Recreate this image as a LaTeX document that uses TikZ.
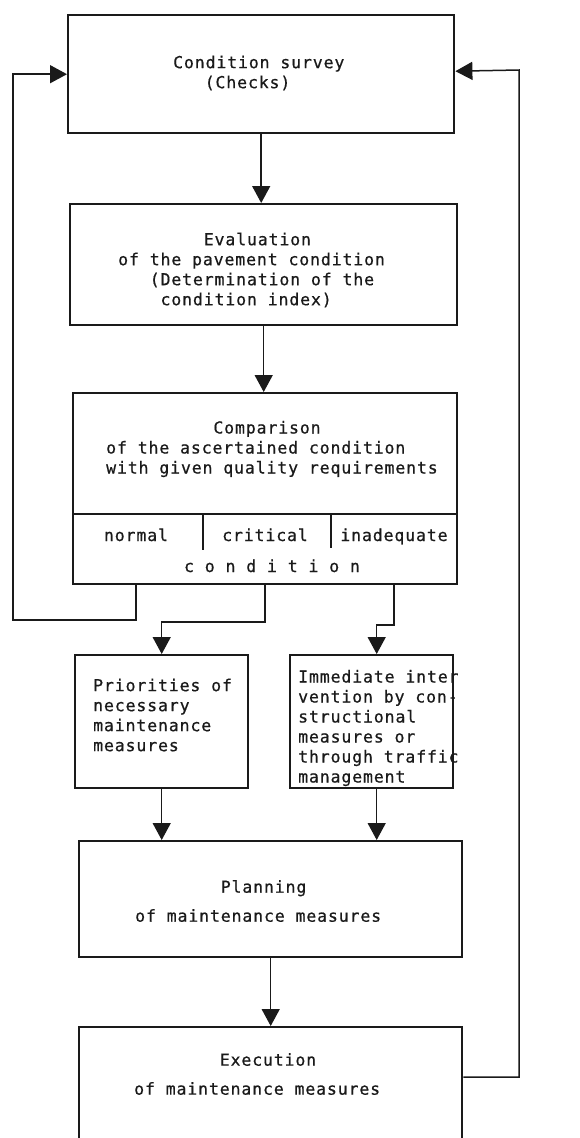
\documentclass[tikz,border=0pt]{standalone}
\usepackage{fontspec}
\usepackage{tikz}
\usetikzlibrary{arrows.meta,calc}
\newfontfamily\typewr{DejaVu Sans Mono}[LetterSpace=5.3,FakeBold=0.6]
\definecolor{Ink}{HTML}{1A1A1A}

\tikzset{
  box/.style={draw=Ink,line width=2.4pt,rectangle,anchor=north west,inner sep=0pt},
  txt/.style={font=\typewr\fontsize{16.5pt}{20pt}\selectfont,text=Ink,inner sep=0pt,align=left,anchor=west},
  flow/.style={draw=Ink,line width=1.5pt,-{Triangle[length=17pt,width=18pt]}},
  rule/.style={draw=Ink,line width=1.8pt}
}

\begin{document}
\begin{tikzpicture}[x=1pt,y=-1pt]
\fill[white] (0,0) rectangle (579,1138);
\useasboundingbox (0,0) rectangle (579,1138);
% boxes
\node[box,minimum width=386pt,minimum height=118pt] (survey) at (67,14) {};
\node[box,minimum width=387pt,minimum height=121pt] (eval) at (69,203) {};
\node[box,minimum width=384pt,minimum height=121pt] (cmp) at (72,392) {};
\node[box,minimum width=384pt,minimum height=70pt] (cmpc) at (72,513) {};
\node[box,minimum width=173pt,minimum height=133pt] (prio) at (74,654) {};
\node[box,minimum width=163pt,minimum height=133pt] (interv) at (289,654) {};
\node[box,minimum width=383pt,minimum height=116pt] (plan) at (78,840) {};
\node[box,minimum width=383pt,minimum height=124pt] (exec) at (78,1026) {};
% texts
\node[txt] (survey-t) at (173,73) {Condition survey\\\hphantom{xxx}(Checks)};
\node[txt] (eval-t) at (118,270) {\hphantom{xxxxxxxx}Evaluation\\of the pavement condition\\\hphantom{xxx}(Determination of the\\\hphantom{xxxx}condition index)};
\node[txt] (cmp-t) at (106,449) {\hphantom{xxxxxxxxxx}Comparison\\of the ascertained condition\\with given quality requirements};
\node[txt,anchor=base] (normal) at (136,541) {normal};
\node[txt,anchor=base] (critical) at (265,541) {critical};
\node[txt,anchor=base] (inadequate) at (394,541) {inadequate};
\node[txt,anchor=base] (cond-t) at (272,572) {c o n d i t i o n};
\node[txt] (prio-t) at (93,715) {Priorities of\\necessary\\maintenance\\measures};
\node[txt] (interv-t) at (298,728) {Immediate inter\\vention by con-\\structional\\measures or\\through traffic\\management};
\node[txt] (plan-t) at (135,901) {\hphantom{xxxxxxxx}Planning\\[9pt]of maintenance measures};
\node[txt] (exec-t) at (134,1074) {\hphantom{xxxxxxxx}Execution\\[9pt]of maintenance measures};
% column rules
\draw[rule] (203,513) -- (203,550);
\draw[rule] (331,513) -- (331,548);
% connectors
\coordinate (ivin) at ($(interv.north)+(5,0)$);
\coordinate (ivout) at ($(interv.south)+(5,0)$);
\draw[flow] (survey.south) -- (survey.south |- eval.north);
\draw[flow] (eval.south) -- (eval.south |- cmp.north);
\draw[flow] (normal |- cmpc.south) |- (13,620) |- (survey.west);
\draw[flow] (critical |- cmpc.south) |- (prio.north |- 0,622) -- (prio.north);
\draw[flow] (inadequate |- cmpc.south) |- (ivin |- 0,625) -- (ivin);
\draw[flow] (prio.south) -- (prio.south |- plan.north);
\draw[flow] (ivout) -- (ivout |- plan.north);
\draw[flow] (plan.south) -- (plan.south |- exec.north);
\draw[flow] ($(exec.north east)+(0,51)$) -| (519,70) -- ($(survey.east)+(0,-3)$);
\end{tikzpicture}
\end{document}
